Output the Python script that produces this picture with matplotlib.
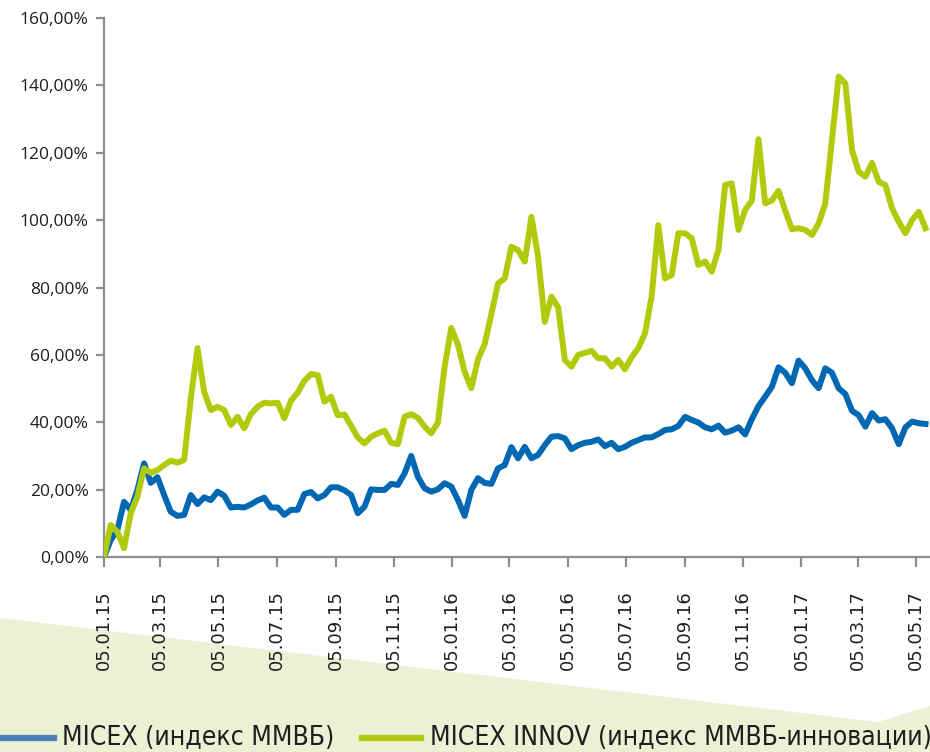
import matplotlib.pyplot as plt
import matplotlib.dates as mdates
import matplotlib.ticker as mticker
import pandas as pd
from matplotlib.patches import Polygon

# недельные точки начиная с 05.01.2015
dates = pd.date_range("2015-01-05", periods=124, freq="7D")

micex = [0, 5, 8, 16.4, 14, 19.9, 27.8, 22, 23.7, 18.4, 13.4, 12.2, 12.5, 18.4, 15.7, 17.7,
         16.9, 19.4, 18.2, 14.7, 14.9, 14.7, 15.6, 16.8, 17.6, 14.7, 14.7, 12.5, 14, 14,
         18.7, 19.3, 17.4, 18.4, 20.7, 20.7, 19.8, 18.4, 13, 14.9, 20.1, 19.9, 19.9, 21.7,
         21.4, 24.8, 30, 23.8, 20.4, 19.4, 20.1, 21.9, 20.9, 16.9, 12.2, 19.9, 23.4, 22,
         21.7, 26.3, 27.3, 32.6, 29.3, 32.7, 29.3, 30.3, 33.2, 35.7, 35.9, 35.2, 32, 33.2,
         33.9, 34.2, 34.9, 32.9, 33.9, 32, 32.7, 33.9, 34.7, 35.5, 35.5, 36.5, 37.7, 37.9,
         38.9, 41.6, 40.7, 39.9, 38.5, 37.9, 39, 36.9, 37.5, 38.5, 36.4, 40.9, 44.8, 47.6,
         50.5, 56.3, 54.7, 51.6, 58.3, 56, 52.5, 50.1, 56, 54.7, 50.1, 48.4, 43.4, 42.1,
         38.7, 42.7, 40.5, 40.9, 38.2, 33.5, 38.5, 40.2, 39.7, 39.5]

innov = [0, 9.5, 7.5, 2.6, 13, 17.9, 26.3, 25, 25.8, 27.3, 28.6, 28, 28.8, 47.1, 62, 49,
         43.6, 44.6, 43.6, 39.2, 41.6, 38.2, 42.4, 44.6, 45.8, 45.6, 45.8, 41.2, 46.4, 48.8,
         52.3, 54.3, 54, 46.1, 47.6, 42.1, 42.3, 38.9, 35.5, 33.7, 35.7, 36.7, 37.5, 33.9,
         33.5, 41.6, 42.4, 41.3, 38.7, 36.7, 39.9, 56.5, 68, 63, 55, 50.1, 58.7, 63.2,
         72.1, 81.2, 82.7, 92.1, 91.1, 87.7, 101, 89.1, 69.8, 77.3, 74.1, 58.5, 56.5, 60,
         60.6, 61.2, 59, 59, 56.5, 58.5, 55.7, 59.3, 62, 66.4, 77.3, 98.5, 82.7, 83.7,
         96.1, 96.1, 94.6, 86.7, 87.7, 84.7, 91.1, 110.4, 110.9, 97.1, 103, 105.8, 124, 105,
         105.8, 108.7, 102.8, 97.3, 97.6, 97.1, 95.6, 99, 105, 123.8, 142.6, 140.6, 120.8, 114.4,
         112.9, 117, 111.4, 110.4, 103.5, 99.5, 96.1, 100, 102.5, 97.6]

tick_dates = pd.to_datetime(["2015-01-05", "2015-03-05", "2015-05-05", "2015-07-05", "2015-09-05",
                             "2015-11-05", "2016-01-05", "2016-03-05", "2016-05-05", "2016-07-05",
                             "2016-09-05", "2016-11-05", "2017-01-05", "2017-03-05", "2017-05-05"])

W, H = 930, 752
fig = plt.figure(figsize=(W / 100, H / 100), dpi=100)

# светло-зелёная подложка внизу
bg = Polygon([(0, 1 - 618 / H), (878 / W, 1 - 722 / H), (1, 1 - 706 / H), (1, 0), (0, 0)],
             closed=True, transform=fig.transFigure, facecolor="#ebf1d5", edgecolor="none", zorder=0)
fig.patches.append(bg)

ax = fig.add_axes([104 / W, 1 - 557 / H, (935 - 104) / W, 539 / H])
ax.set_zorder(2)
ax.patch.set_alpha(0)

ax.plot(dates, micex, color="#0068b3", lw=4.3, solid_joinstyle="round", zorder=3)
ax.plot(dates, innov, color="#b1ca0c", lw=4.3, solid_joinstyle="round", zorder=4)

ax.set_xlim(pd.Timestamp("2015-01-05"), pd.Timestamp("2017-05-25"))
ax.set_ylim(0, 160)
ax.set_yticks(range(0, 161, 20))
ax.yaxis.set_major_formatter(mticker.FuncFormatter(lambda v, p: f"{v:.2f}%".replace(".", ",")))
ax.set_xticks(tick_dates)
ax.xaxis.set_major_formatter(mdates.DateFormatter("%d.%m.%y"))

for s in ["top", "right"]:
    ax.spines[s].set_visible(False)
for s in ["left", "bottom"]:
    ax.spines[s].set_color("#8e8e8e")
    ax.spines[s].set_linewidth(1.6)

ax.tick_params(axis="y", length=6, width=1.6, color="#8e8e8e", pad=5,
               labelsize=12.5, labelcolor="#1e1e1e")
ax.tick_params(axis="x", length=7, width=1.6, color="#8e8e8e", pad=17,
               labelsize=13, labelcolor="#1e1e1e", labelrotation=90)
for lab in ax.get_yticklabels():
    lab.set_fontfamily("Open Sans")
for lab in ax.get_xticklabels():
    lab.set_fontfamily("DejaVu Sans")

# легенда (обрезана краем рисунка, как в исходнике)
ly = 1 - 738 / H
fig.add_artist(plt.Line2D([-5 / W, 54 / W], [ly, ly], transform=fig.transFigure,
                          color="#4a7ebb", lw=4.5))
fig.text(62 / W, ly, "MICEX (индекс ММВБ)", fontsize=19, color="#1e1e1e",
         family="DejaVu Sans", stretch="condensed", va="center", ha="left")
fig.add_artist(plt.Line2D([362 / W, 421 / W], [ly, ly], transform=fig.transFigure,
                          color="#afc70c", lw=4.5))
fig.text(430 / W, ly, "MICEX INNOV (индекс ММВБ-инновации)", fontsize=19, color="#1e1e1e",
         family="DejaVu Sans", stretch="condensed", va="center", ha="left")

fig.savefig("out.png", dpi=100)
